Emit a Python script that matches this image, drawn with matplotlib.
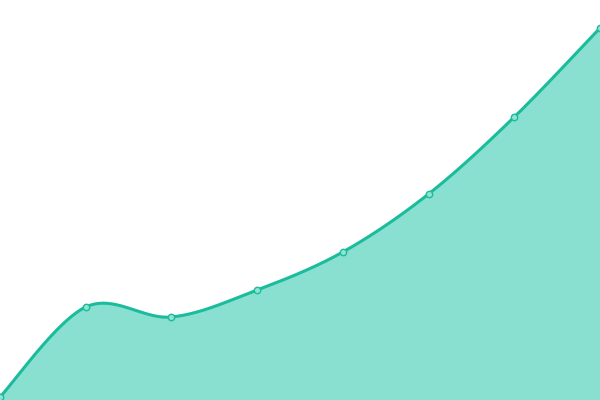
import numpy as np
import matplotlib
matplotlib.use("Agg")
import matplotlib.pyplot as plt

# values (0 = bottom edge, 400 = top edge)
x_points = [0, 1, 2, 3, 4, 5, 6, 7]
y_values = [3, 93, 83, 110, 148, 206, 283, 372]

LINE_COLOR = "#1abc9c"
FILL_COLOR = "#89e0d0"


def smooth_curve(xs, ys, steps=40):
    # catmull-rom through the points, endpoints duplicated
    xs = np.asarray(xs, dtype=float)
    ys = np.asarray(ys, dtype=float)
    px = np.concatenate([[xs[0]], xs, [xs[-1]]])
    py = np.concatenate([[ys[0]], ys, [ys[-1]]])
    out_x, out_y = [], []
    t = np.linspace(0, 1, steps)
    for i in range(1, len(px) - 2):
        for p, out in ((px, out_x), (py, out_y)):
            p0, p1, p2, p3 = p[i - 1], p[i], p[i + 1], p[i + 2]
            m1 = (p2 - p0) / 2
            m2 = (p3 - p1) / 2
            h00 = 2 * t**3 - 3 * t**2 + 1
            h10 = t**3 - 2 * t**2 + t
            h01 = -2 * t**3 + 3 * t**2
            h11 = t**3 - t**2
            out.extend(h00 * p1 + h10 * m1 + h01 * p2 + h11 * m2)
    return np.array(out_x), np.array(out_y)


fig = plt.figure(figsize=(6, 4), dpi=100)
ax = fig.add_axes([0, 0, 1, 1])

cx, cy = smooth_curve(x_points, y_values)
ax.fill_between(cx, 0, cy, color=FILL_COLOR, linewidth=0)
ax.plot(cx, cy, color=LINE_COLOR, linewidth=2.2, solid_capstyle="round")
ax.plot(x_points, y_values, "o", markersize=4.6, markerfacecolor="#8fe3d3",
        markeredgecolor=LINE_COLOR, markeredgewidth=1.0)

ax.set_xlim(0, 7)
ax.set_ylim(0, 400)
ax.axis("off")

fig.savefig("out.png", dpi=100)
